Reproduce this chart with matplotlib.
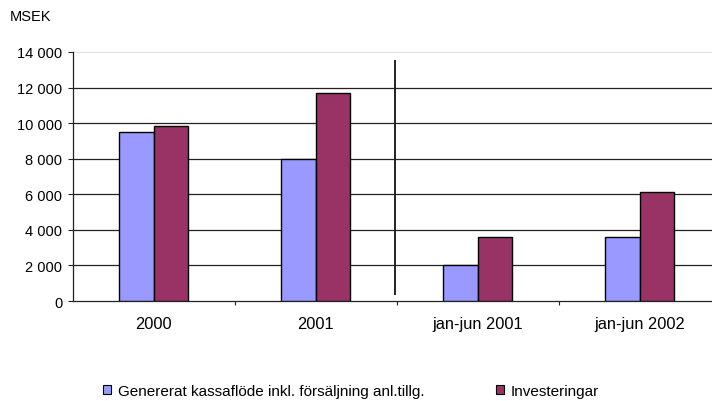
import matplotlib
matplotlib.use("Agg")
import matplotlib.pyplot as plt
from matplotlib.patches import Patch
import numpy as np

categories = ["2000", "2001", "jan-jun 2001", "jan-jun 2002"]
kassaflode = [9500, 8000, 2000, 3600]
investeringar = [9850, 11700, 3600, 6150]
series_names = ["Genererat kassaflöde inkl. försäljning anl.tillg.", "Investeringar"]
yticks = [0, 2000, 4000, 6000, 8000, 10000, 12000, 14000]

plt.rcParams["font.family"] = ["Liberation Sans", "DejaVu Sans"]

W, H = 712, 402
fig = plt.figure(figsize=(W / 100, H / 100), dpi=100)
left, bottom, top = 72.7 / W, 1 - 302 / H, 1 - 53 / H
ax = fig.add_axes([left, bottom, 1 - left, top - bottom])

blue = "#9999FF"
plum = "#993366"
x = np.arange(len(categories))
bw = 0.212
ax.bar(x - bw / 2, kassaflode, bw, color=blue, edgecolor="black", linewidth=1.0, zorder=3)
ax.bar(x + bw / 2, investeringar, bw, color=plum, edgecolor="black", linewidth=1.0, zorder=3)

ax.set_xlim(-0.5, -0.5 + (W - 72.7) / 162.0)
ax.set_ylim(0, 14000)

# horizontal gridlines
for v in yticks[1:-1]:
    ax.axhline(v, color="#222222", linewidth=0.9, zorder=1)
ax.axhline(14000, color="#dddddd", linewidth=1.2, zorder=1)

# divider between full years and half-year periods
ax.plot([1.49, 1.49], [400, 13500], color="#222222", linewidth=1.4, zorder=4)

for s in ["top", "right"]:
    ax.spines[s].set_visible(False)
ax.spines["left"].set_color("#222222")
ax.spines["bottom"].set_color("#222222")
ax.spines["left"].set_linewidth(0.9)
ax.spines["bottom"].set_linewidth(0.9)

ax.set_yticks(yticks)
ax.set_yticklabels([f"{v:,}".replace(",", " ") for v in yticks])
ax.tick_params(axis="y", length=3.5, width=0.8, pad=4, labelsize=10.5, color="#222222")

ax.set_xticks(x)
ax.set_xticklabels(categories)
ax.tick_params(axis="x", length=0, pad=11, labelsize=11.8)
ax.set_xticks([0.5, 1.5, 2.5], minor=True)
ax.tick_params(axis="x", which="minor", length=3, width=0.8, color="#222222")

fig.text(10 / W, 1 - 17 / H, "MSEK", fontsize=10.5, va="center", ha="left")

h1 = Patch(facecolor=blue, edgecolor="black", linewidth=0.8)
h2 = Patch(facecolor=plum, edgecolor="black", linewidth=0.8)
for h, name, xpos in [(h1, series_names[0], 103), (h2, series_names[1], 496)]:
    fig.legend([h], [name], loc="center left", bbox_to_anchor=(xpos / W, 1 - 392 / H),
               frameon=False, fontsize=11, handlelength=0.55, handleheight=0.55,
               handletextpad=0.4, borderpad=0, borderaxespad=0)

fig.savefig("out.png", dpi=100)
